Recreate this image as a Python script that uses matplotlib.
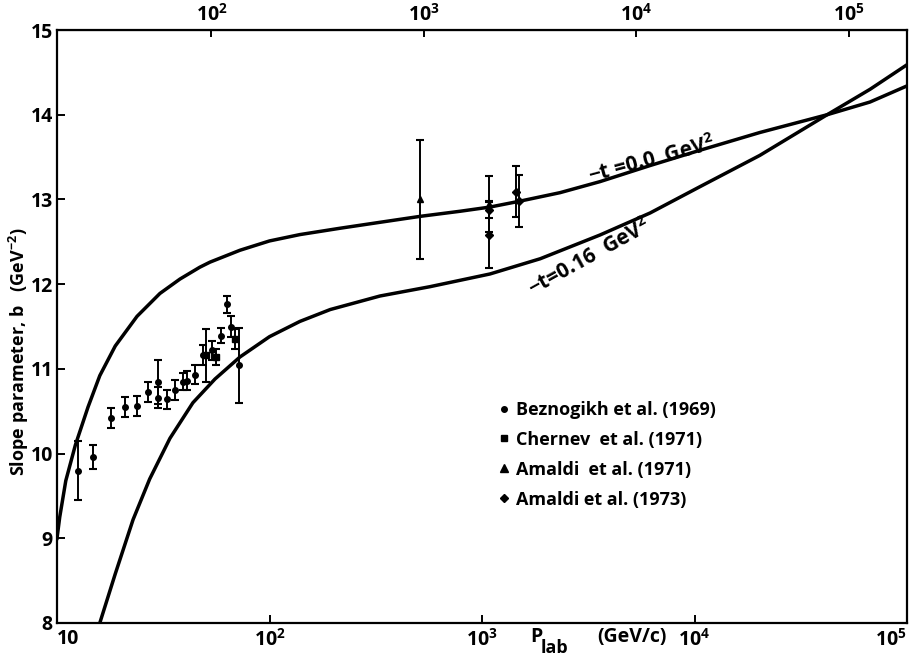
import matplotlib
matplotlib.use("Agg")
import matplotlib.pyplot as plt
from matplotlib.lines import Line2D
from matplotlib.ticker import NullLocator

plt.rcParams['font.family'] = ['Open Sans', 'DejaVu Sans']
plt.rcParams['font.weight'] = 'bold'
plt.rcParams['mathtext.fontset'] = 'custom'
plt.rcParams['mathtext.rm'] = 'Open Sans:bold'
plt.rcParams['mathtext.it'] = 'Open Sans:bold'
plt.rcParams['mathtext.default'] = 'rm'

# theory curves (P_lab in GeV/c, b in GeV^-2)
p_t0 = [10.0, 10.3, 11.0, 12.2, 14.0, 15.9, 18.8, 23.8, 30.5, 37.9, 47.0, 52.5, 72.6, 100,
        139, 215, 331, 511, 787, 1090, 1510, 2330, 3590, 6180, 10600, 20300, 42100,
        67000, 100000]
b_t0 = [9.00, 9.25, 9.68, 10.10, 10.55, 10.92, 11.27, 11.62, 11.89, 12.06, 12.20, 12.26, 12.40, 12.51,
        12.585, 12.66, 12.73, 12.80, 12.86, 12.91, 12.98, 13.08, 13.21, 13.40, 13.58, 13.79, 14.00,
        14.15, 14.34]

p_t16 = [15.9, 18.8, 22.8, 27.3, 34.0, 43.6, 55.4, 72.6, 100, 139, 193, 331, 569,
         1090, 1880, 3590, 6180, 10600, 20300, 42100, 67000, 100000]
b_t16 = [8.00, 8.58, 9.22, 9.70, 10.18, 10.60, 10.88, 11.14, 11.38, 11.56, 11.70, 11.86, 11.97,
         12.12, 12.30, 12.58, 12.84, 13.15, 13.52, 14.00, 14.30, 14.59]

# Beznogikh et al. (1969)
p_bez = [12.5, 14.8, 17.9, 21.0, 23.7, 26.9, 30.0, 30.0, 32.8, 35.9, 39.1, 40.8,
         44.6, 48.5, 53.8, 59.2, 63.0, 66.0, 71.5]
b_bez = [9.80, 9.96, 10.42, 10.55, 10.56, 10.73, 10.85, 10.66, 10.64, 10.75, 10.85, 10.86,
         10.93, 11.16, 11.22, 11.39, 11.76, 11.50, 11.04]
e_bez = [0.35, 0.14, 0.12, 0.12, 0.12, 0.12, 0.26, 0.12, 0.11, 0.12, 0.10, 0.11,
         0.11, 0.12, 0.11, 0.09, 0.10, 0.12, 0.44]

# Chernev et al. (1971)
p_che = [50.2, 56.0, 68.8]
b_che = [11.16, 11.14, 11.35]
e_che = [0.31, 0.09, 0.12]

# Amaldi et al. (1971)
p_am71 = [511, 1078]
b_am71 = [13.0, 12.95]
e_am71 = [0.70, 0.33]

# Amaldi et al. (1973)
p_am73 = [1078, 1078, 1440, 1500]
b_am73 = [12.58, 12.88, 13.09, 12.98]
e_am73 = [0.39, 0.10, 0.30, 0.31]

fig = plt.figure(figsize=(9.17, 6.6), dpi=100)
ax = fig.add_axes([57/917, 1-623/660, 850/917, 593/660])

ax.plot(p_t0, b_t0, color='k', lw=2.5, solid_joinstyle='round')
ax.plot(p_t16, b_t16, color='k', lw=2.5, solid_joinstyle='round')

eb = dict(color='k', ls='none', elinewidth=1.4, capsize=3.2, capthick=1.5)
ax.errorbar(p_bez, b_bez, yerr=e_bez, marker='o', ms=4, **eb)
ax.errorbar(p_che, b_che, yerr=e_che, marker='s', ms=4, **eb)
ax.errorbar(p_am71, b_am71, yerr=e_am71, marker='^', ms=5, **eb)
ax.errorbar(p_am73, b_am73, yerr=e_am73, marker='D', ms=4, **eb)

ax.set_xscale('log')
ax.set_xlim(10, 1e5)
ax.set_ylim(8, 15)
ax.set_xticks([10, 100, 1000, 1e4, 1e5])
ax.set_xticklabels(['10', '$10^2$', '$10^3$', '$10^4$', '$10^5$'])
ax.set_yticks(range(8, 16))
ax.xaxis.set_minor_locator(NullLocator())
ax.tick_params(axis='both', direction='in', length=6, width=1.4, labelsize=14)
ax.tick_params(axis='x', pad=4)
ax.tick_params(axis='y', pad=3)
for s in ax.spines.values():
    s.set_linewidth(1.6)
labels = ax.get_xticklabels()
labels[0].set_ha('left')
labels[-1].set_ha('right')

# top axis: s = 2 m P_lab
m = 0.938
top = ax.secondary_xaxis('top', functions=(lambda p: 2*m*p, lambda s: s/(2*m)))
top.set_xticks([100, 1000, 1e4, 1e5])
top.set_xticklabels(['$10^2$', '$10^3$', '$10^4$', '$10^5$'])
top.xaxis.set_minor_locator(NullLocator())
top.tick_params(direction='in', length=5, width=1.4, labelsize=14, pad=3)

ax.text(6300, 13.47, '−t =0.0  GeV$^2$', fontsize=15, rotation=15, ha='center', va='center')
ax.text(3220, 12.32, '−t=0.16  GeV$^2$', fontsize=15, rotation=29, ha='center', va='center')

handles = [Line2D([], [], color='k', ls='none', marker='o', ms=4),
           Line2D([], [], color='k', ls='none', marker='s', ms=5),
           Line2D([], [], color='k', ls='none', marker='^', ms=6),
           Line2D([], [], color='k', ls='none', marker='D', ms=4)]
names = ['Beznogikh et al. (1969)', 'Chernev  et al. (1971)',
         'Amaldi  et al. (1971)', 'Amaldi et al. (1973)']
ax.legend(handles, names, loc='upper left', bbox_to_anchor=(0.5, 0.402), frameon=False,
          fontsize=13, handlelength=0.6, handletextpad=0.4, labelspacing=0.66)

fig.text(19/917, 1-352/660, 'Slope parameter, b   (GeV$^{-2}$)', rotation=90,
         ha='center', va='center', fontsize=13)
fig.text(530/917, 1-637/660, 'P', fontsize=14, ha='left', va='center')
fig.text(541/917, 1-648/660, 'lab', fontsize=13, ha='left', va='center')
fig.text(597/917, 1-637/660, '(GeV/c)', fontsize=14, ha='left', va='center')

fig.savefig('out.png', dpi=100)
